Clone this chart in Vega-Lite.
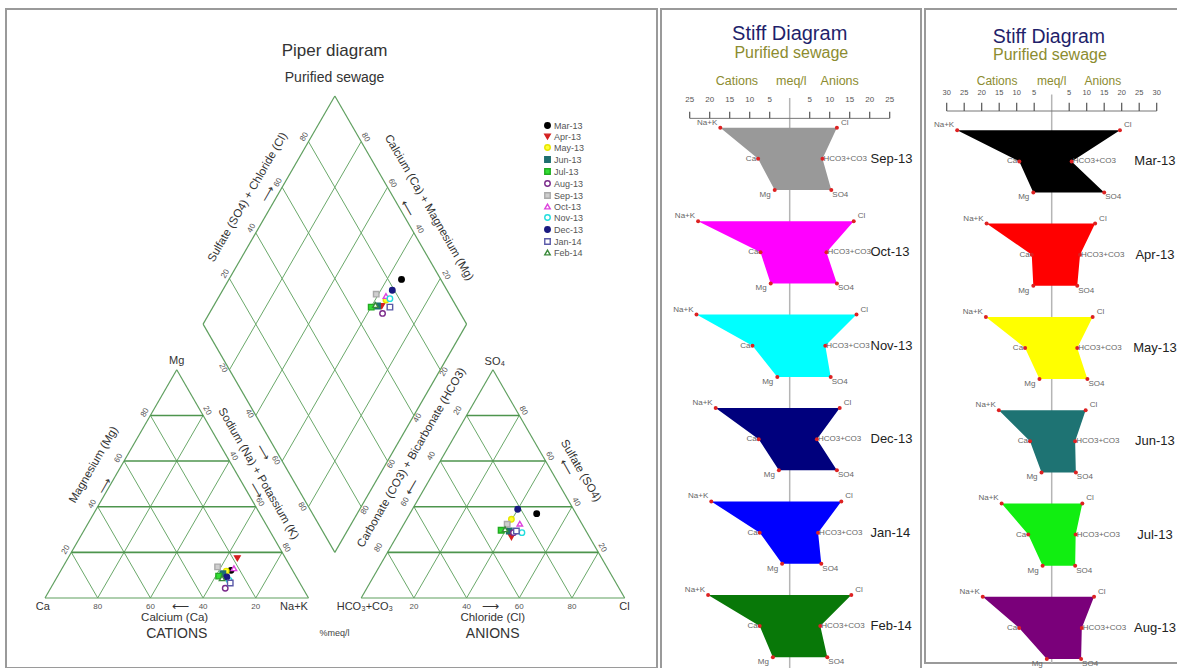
{
"$schema": "https://vega.github.io/schema/vega-lite/v6.json",
"background": "white",
"padding": {"left": 5, "top": 8, "right": 0, "bottom": 0},
"spacing": 2,
"config": {"font": "Liberation Sans", "view": {"stroke": "#9a9a9a", "strokeWidth": 2}},
"datasets": {
"grid": [
{"u":0,"v":0,"u2":100,"v2":0,"kind":"outline"},{"u":0,"v":0,"u2":50,"v2":86.603,"kind":"outline"},{"u":100,"v":0,"u2":50,"v2":86.603,"kind":"outline"},
{"u":120,"v":0,"u2":220,"v2":0,"kind":"outline"},{"u":120,"v":0,"u2":170,"v2":86.603,"kind":"outline"},{"u":220,"v":0,"u2":170,"v2":86.603,"kind":"outline"},
{"u":110,"v":17.321,"u2":60,"v2":103.923,"kind":"outline"},{"u":110,"v":17.321,"u2":160,"v2":103.923,"kind":"outline"},{"u":60,"v":103.923,"u2":110,"v2":190.526,"kind":"outline"},{"u":160,"v":103.923,"u2":110,"v2":190.526,"kind":"outline"},
{"u":10,"v":17.321,"u2":90,"v2":17.321,"kind":"level"},{"u":20,"v":34.641,"u2":80,"v2":34.641,"kind":"level"},{"u":30,"v":51.962,"u2":70,"v2":51.962,"kind":"level"},{"u":40,"v":69.282,"u2":60,"v2":69.282,"kind":"level"},
{"u":130,"v":17.321,"u2":210,"v2":17.321,"kind":"level"},{"u":140,"v":34.641,"u2":200,"v2":34.641,"kind":"level"},{"u":150,"v":51.962,"u2":190,"v2":51.962,"kind":"level"},{"u":160,"v":69.282,"u2":180,"v2":69.282,"kind":"level"},
{"u":20,"v":0,"u2":60,"v2":69.282,"kind":"grid"},{"u":40,"v":0,"u2":70,"v2":51.962,"kind":"grid"},{"u":60,"v":0,"u2":80,"v2":34.641,"kind":"grid"},{"u":80,"v":0,"u2":90,"v2":17.321,"kind":"grid"},
{"u":20,"v":0,"u2":10,"v2":17.321,"kind":"grid"},{"u":40,"v":0,"u2":20,"v2":34.641,"kind":"grid"},{"u":60,"v":0,"u2":30,"v2":51.962,"kind":"grid"},{"u":80,"v":0,"u2":40,"v2":69.282,"kind":"grid"},
{"u":140,"v":0,"u2":180,"v2":69.282,"kind":"grid"},{"u":160,"v":0,"u2":190,"v2":51.962,"kind":"grid"},{"u":180,"v":0,"u2":200,"v2":34.641,"kind":"grid"},{"u":200,"v":0,"u2":210,"v2":17.321,"kind":"grid"},
{"u":140,"v":0,"u2":130,"v2":17.321,"kind":"grid"},{"u":160,"v":0,"u2":140,"v2":34.641,"kind":"grid"},{"u":180,"v":0,"u2":150,"v2":51.962,"kind":"grid"},{"u":200,"v":0,"u2":160,"v2":69.282,"kind":"grid"},
{"u":120,"v":34.641,"u2":70,"v2":121.244,"kind":"grid"},{"u":130,"v":51.962,"u2":80,"v2":138.564,"kind":"grid"},{"u":140,"v":69.282,"u2":90,"v2":155.885,"kind":"grid"},{"u":150,"v":86.603,"u2":100,"v2":173.205,"kind":"grid"},
{"u":100,"v":34.641,"u2":150,"v2":121.244,"kind":"grid"},{"u":90,"v":51.962,"u2":140,"v2":138.564,"kind":"grid"},{"u":80,"v":69.282,"u2":130,"v2":155.885,"kind":"grid"},{"u":70,"v":86.603,"u2":120,"v2":173.205,"kind":"grid"}
],
"ptext": [
{"t":"Piper  diagram","u":109.9,"v":207.6,"role":"title","dir":"flat"},
{"t":"Purified sewage","u":109.9,"v":197.5,"role":"sub","dir":"flat"},
{"t":"CATIONS","u":50,"v":-13.7,"role":"group","dir":"flat"},
{"t":"ANIONS","u":169.9,"v":-13.7,"role":"group","dir":"flat"},
{"t":"%meq/l","u":109.9,"v":-13.2,"role":"unit","dir":"flat"},
{"t":"Ca","u":-0.8,"v":-3.4,"role":"vertex","dir":"flat"},
{"t":"Na+K","u":94.5,"v":-3.4,"role":"vertex","dir":"flat"},
{"t":"HCO₃+CO₃","u":121.4,"v":-3.4,"role":"vertex","dir":"flat"},
{"t":"Cl","u":219.9,"v":-3.4,"role":"vertex","dir":"flat"},
{"t":"Mg","u":50,"v":89.9,"role":"vertex","dir":"flat"},
{"t":"SO₄","u":170.7,"v":89.7,"role":"vertex","dir":"flat"},
{"t":"80","u":20,"v":-3.4,"role":"tick","dir":"flat"},{"t":"60","u":40,"v":-3.4,"role":"tick","dir":"flat"},{"t":"40","u":60,"v":-3.4,"role":"tick","dir":"flat"},{"t":"20","u":80,"v":-3.4,"role":"tick","dir":"flat"},
{"t":"20","u":140,"v":-3.4,"role":"tick","dir":"flat"},{"t":"40","u":160,"v":-3.4,"role":"tick","dir":"flat"},{"t":"60","u":180,"v":-3.4,"role":"tick","dir":"flat"},{"t":"80","u":200,"v":-3.4,"role":"tick","dir":"flat"},
{"t":"20","u":8,"v":18.3,"role":"tick","dir":"up"},{"t":"40","u":18,"v":35.6,"role":"tick","dir":"up"},{"t":"60","u":28,"v":53,"role":"tick","dir":"up"},{"t":"80","u":38,"v":70.3,"role":"tick","dir":"up"},
{"t":"80","u":126.7,"v":19.1,"role":"tick","dir":"up"},{"t":"60","u":136.7,"v":36.4,"role":"tick","dir":"up"},{"t":"40","u":146.7,"v":53.8,"role":"tick","dir":"up"},{"t":"20","u":156.7,"v":71.1,"role":"tick","dir":"up"},
{"t":"20","u":68.5,"v":123,"role":"tick","dir":"up"},{"t":"40","u":78.5,"v":140.3,"role":"tick","dir":"up"},{"t":"60","u":88.5,"v":157.6,"role":"tick","dir":"up"},{"t":"80","u":98.5,"v":175,"role":"tick","dir":"up"},
{"t":"80","u":121.5,"v":33.3,"role":"tick","dir":"up"},{"t":"60","u":131.5,"v":50.8,"role":"tick","dir":"up"},{"t":"40","u":141.5,"v":68.3,"role":"tick","dir":"up"},{"t":"20","u":151.5,"v":85.8,"role":"tick","dir":"up"},
{"t":"20","u":61.5,"v":71.1,"role":"tick","dir":"down"},{"t":"40","u":71.5,"v":53.8,"role":"tick","dir":"down"},{"t":"60","u":81.5,"v":36.4,"role":"tick","dir":"down"},{"t":"80","u":91.5,"v":19.1,"role":"tick","dir":"down"},
{"t":"80","u":181.5,"v":71.1,"role":"tick","dir":"down"},{"t":"60","u":191.5,"v":53.8,"role":"tick","dir":"down"},{"t":"40","u":201.5,"v":36.4,"role":"tick","dir":"down"},{"t":"20","u":211.5,"v":19.1,"role":"tick","dir":"down"},
{"t":"80","u":121.6,"v":174.8,"role":"tick","dir":"down"},{"t":"60","u":131.8,"v":157.4,"role":"tick","dir":"down"},{"t":"40","u":142,"v":140,"role":"tick","dir":"down"},{"t":"20","u":152.2,"v":122.5,"role":"tick","dir":"down"},
{"t":"20","u":67.5,"v":87.2,"role":"tick","dir":"down"},{"t":"40","u":77.5,"v":69.9,"role":"tick","dir":"down"},{"t":"60","u":87.5,"v":52.2,"role":"tick","dir":"down"},{"t":"80","u":97.5,"v":34.6,"role":"tick","dir":"down"},
{"t":"Calcium (Ca)","u":49.2,"v":-7.6,"role":"axis","dir":"flat"},
{"t":"Chloride (Cl)","u":169.9,"v":-7.6,"role":"axis","dir":"flat"},
{"t":"⟵","u":51.6,"v":-3.4,"role":"axis","dir":"flat"},
{"t":"⟶","u":169,"v":-3.4,"role":"axis","dir":"flat"},
{"t":"Magnesium (Mg)","u":18.6,"v":50.5,"role":"axis","dir":"up"},
{"t":"Sulfate (SO4) + Chloride (Cl)","u":77.0,"v":152.0,"role":"axis","dir":"up"},
{"t":"Carbonate (CO3) + Bicarbonate (HCO3)","u":139.2,"v":53.2,"role":"axis","dir":"up"},
{"t":"⟶","u":23,"v":42.5,"role":"axis","dir":"up"},
{"t":"⟶","u":84.9,"v":153.2,"role":"axis","dir":"up"},
{"t":"⟵","u":139.7,"v":41.9,"role":"axis","dir":"up"},
{"t":"Sodium (Na) + Potassium (K)","u":80.9,"v":47.1,"role":"axis","dir":"down"},
{"t":"Calcium (Ca) + Magnesium (Mg)","u":145.6,"v":148.1,"role":"axis","dir":"down"},
{"t":"Sulfate (SO4)","u":203.2,"v":48.2,"role":"axis","dir":"down"},
{"t":"⟶","u":80.1,"v":40.6,"role":"axis","dir":"down"},
{"t":"⟶","u":82.5,"v":55.1,"role":"axis","dir":"down"},
{"t":"⟵","u":137.3,"v":147.5,"role":"axis","dir":"down"},
{"t":"⟵","u":197.7,"v":49.4,"role":"axis","dir":"down"}
],
"pts": [
{"month":"Mar-13","u":70.6,"v":10.5},{"month":"Apr-13","u":73.0,"v":15.1},{"month":"May-13","u":68.8,"v":10.2},{"month":"Jun-13","u":67.5,"v":9.2},{"month":"Jul-13","u":65.9,"v":8.3},{"month":"Aug-13","u":68.4,"v":3.7},
{"month":"Sep-13","u":65.5,"v":11.8},{"month":"Oct-13","u":71.7,"v":11.3},{"month":"Nov-13","u":69.9,"v":6.7},{"month":"Dec-13","u":69.0,"v":8.0},{"month":"Jan-14","u":70.3,"v":5.7},{"month":"Feb-14","u":67.2,"v":7.5},
{"month":"Mar-13","u":186.6,"v":32.0},{"month":"Apr-13","u":177.0,"v":23.1},{"month":"May-13","u":177.0,"v":29.9},{"month":"Jun-13","u":176.2,"v":25.4},{"month":"Jul-13","u":173.1,"v":25.7},{"month":"Aug-13","u":177.8,"v":24.8},
{"month":"Sep-13","u":175.4,"v":28.0},{"month":"Oct-13","u":180.2,"v":28.2},{"month":"Nov-13","u":181.0,"v":24.8},{"month":"Dec-13","u":179.4,"v":33.7},{"month":"Jan-14","u":178.9,"v":25.4},{"month":"Feb-14","u":174.6,"v":26.1},
{"month":"Mar-13","u":135.3,"v":120.9},{"month":"Apr-13","u":127.8,"v":110.8},{"month":"May-13","u":129.4,"v":113.1},{"month":"Jun-13","u":126.2,"v":110.8},{"month":"Jul-13","u":123.8,"v":110.4},{"month":"Aug-13","u":128.1,"v":108.0},
{"month":"Sep-13","u":125.7,"v":115.3},{"month":"Oct-13","u":129.4,"v":114.6},{"month":"Nov-13","u":130.9,"v":113.6},{"month":"Dec-13","u":131.8,"v":116.8},{"month":"Jan-14","u":130.9,"v":110.4},{"month":"Feb-14","u":125.4,"v":111.2}
],
"stiffB": [
{"sample":"Sep-13","r":0,"cat":-17.35,"an":11.8,"cl":"Na+K","al":"Cl","pos":"t"},{"sample":"Sep-13","r":1,"cat":-7.9,"an":8.2,"cl":"Ca","al":"HCO3+CO3","pos":"m"},{"sample":"Sep-13","r":2,"cat":-3.75,"an":10.4,"cl":"Mg","al":"SO4","pos":"b"},
{"sample":"Oct-13","r":3,"cat":-22.9,"an":16.0,"cl":"Na+K","al":"Cl","pos":"t"},{"sample":"Oct-13","r":4,"cat":-7.3,"an":9.2,"cl":"Ca","al":"HCO3+CO3","pos":"m"},{"sample":"Oct-13","r":5,"cat":-4.75,"an":11.8,"cl":"Mg","al":"SO4","pos":"b"},
{"sample":"Nov-13","r":6,"cat":-23.3,"an":16.7,"cl":"Na+K","al":"Cl","pos":"t"},{"sample":"Nov-13","r":7,"cat":-9.3,"an":8.9,"cl":"Ca","al":"HCO3+CO3","pos":"m"},{"sample":"Nov-13","r":8,"cat":-3.1,"an":10.25,"cl":"Mg","al":"SO4","pos":"b"},
{"sample":"Dec-13","r":9,"cat":-18.5,"an":12.5,"cl":"Na+K","al":"Cl","pos":"t"},{"sample":"Dec-13","r":10,"cat":-7.75,"an":6.8,"cl":"Ca","al":"HCO3+CO3","pos":"m"},{"sample":"Dec-13","r":11,"cat":-2.7,"an":11.8,"cl":"Mg","al":"SO4","pos":"b"},
{"sample":"Jan-14","r":12,"cat":-19.6,"an":12.9,"cl":"Na+K","al":"Cl","pos":"t"},{"sample":"Jan-14","r":13,"cat":-7.5,"an":7.1,"cl":"Ca","al":"HCO3+CO3","pos":"m"},{"sample":"Jan-14","r":14,"cat":-1.9,"an":7.9,"cl":"Mg","al":"SO4","pos":"b"},
{"sample":"Feb-14","r":15,"cat":-20.4,"an":15.4,"cl":"Na+K","al":"Cl","pos":"t"},{"sample":"Feb-14","r":16,"cat":-7.5,"an":7.65,"cl":"Ca","al":"HCO3+CO3","pos":"m"},{"sample":"Feb-14","r":17,"cat":-4.2,"an":9.4,"cl":"Mg","al":"SO4","pos":"b"}
],
"stiffC": [
{"sample":"Mar-13","r":0,"cat":-27.0,"an":19.5,"cl":"Na+K","al":"Cl","pos":"t"},{"sample":"Mar-13","r":1,"cat":-9.25,"an":5.7,"cl":"Ca","al":"HCO3+CO3","pos":"m"},{"sample":"Mar-13","r":2,"cat":-5.25,"an":15.0,"cl":"Mg","al":"SO4","pos":"b"},
{"sample":"Apr-13","r":3,"cat":-18.6,"an":12.4,"cl":"Na+K","al":"Cl","pos":"t"},{"sample":"Apr-13","r":4,"cat":-5.7,"an":8.1,"cl":"Ca","al":"HCO3+CO3","pos":"m"},{"sample":"Apr-13","r":5,"cat":-5.25,"an":7.3,"cl":"Mg","al":"SO4","pos":"b"},
{"sample":"May-13","r":6,"cat":-18.8,"an":11.7,"cl":"Na+K","al":"Cl","pos":"t"},{"sample":"May-13","r":7,"cat":-7.6,"an":7.3,"cl":"Ca","al":"HCO3+CO3","pos":"m"},{"sample":"May-13","r":8,"cat":-3.5,"an":10.2,"cl":"Mg","al":"SO4","pos":"b"},
{"sample":"Jun-13","r":9,"cat":-15.1,"an":9.7,"cl":"Na+K","al":"Cl","pos":"t"},{"sample":"Jun-13","r":10,"cat":-6.2,"an":6.7,"cl":"Ca","al":"HCO3+CO3","pos":"m"},{"sample":"Jun-13","r":11,"cat":-2.9,"an":6.9,"cl":"Mg","al":"SO4","pos":"b"},
{"sample":"Jul-13","r":12,"cat":-14.3,"an":8.75,"cl":"Na+K","al":"Cl","pos":"t"},{"sample":"Jul-13","r":13,"cat":-6.7,"an":6.85,"cl":"Ca","al":"HCO3+CO3","pos":"m"},{"sample":"Jul-13","r":14,"cat":-2.6,"an":6.7,"cl":"Mg","al":"SO4","pos":"b"},
{"sample":"Aug-13","r":15,"cat":-19.7,"an":12.1,"cl":"Na+K","al":"Cl","pos":"t"},{"sample":"Aug-13","r":16,"cat":-9.3,"an":8.6,"cl":"Ca","al":"HCO3+CO3","pos":"m"},{"sample":"Aug-13","r":17,"cat":-1.4,"an":8.4,"cl":"Mg","al":"SO4","pos":"b"}
],
"ticksB": [{"v":-25,"lab":"25"},{"v":-20,"lab":"20"},{"v":-15,"lab":"15"},{"v":-10,"lab":"10"},{"v":-5,"lab":"5"},{"v":5,"lab":"5"},{"v":10,"lab":"10"},{"v":15,"lab":"15"},{"v":20,"lab":"20"},{"v":25,"lab":"25"}],
"ticksC": [{"v":-30,"lab":"30"},{"v":-25,"lab":"25"},{"v":-20,"lab":"20"},{"v":-15,"lab":"15"},{"v":-10,"lab":"10"},{"v":-5,"lab":"5"},{"v":5,"lab":"5"},{"v":10,"lab":"10"},{"v":15,"lab":"15"},{"v":20,"lab":"20"},{"v":25,"lab":"25"},{"v":30,"lab":"30"}],
"titlesB": [{"t":"Stiff Diagram","x":0,"y":-3.01,"role":"title"},{"t":"Purified sewage","x":0.4,"y":-2.40,"role":"sub"},{"t":"Cations","x":-13.2,"y":-1.50,"role":"head"},{"t":"meq/l","x":0.4,"y":-1.50,"role":"head"},{"t":"Anions","x":12.5,"y":-1.50,"role":"head"}],
"titlesC": [{"t":"Stiff Diagram","x":-0.8,"y":-3.0,"role":"title"},{"t":"Purified sewage","x":-0.5,"y":-2.42,"role":"sub"},{"t":"Cations","x":-15.6,"y":-1.60,"role":"head"},{"t":"meq/l","x":0,"y":-1.60,"role":"head"},{"t":"Anions","x":14.6,"y":-1.60,"role":"head"}]
},
"hconcat": [
{
"width": 651, "height": 659,
"encoding": {
"x": {"field":"u","type":"quantitative","scale":{"domain":[-14.8,232.26],"nice":false,"zero":false},"axis":null},
"y": {"field":"v","type":"quantitative","scale":{"domain":[-26.57,223.53],"nice":false,"zero":false},"axis":null}
},
"layer": [
{"data":{"name":"grid"},"transform":[{"filter":"datum.kind == 'grid'"}],"mark":{"type":"rule","color":"#6aa86a","strokeWidth":1},"encoding":{"x2":{"field":"u2"},"y2":{"field":"v2"}}},
{"data":{"name":"grid"},"transform":[{"filter":"datum.kind == 'outline'"}],"mark":{"type":"rule","color":"#5f9f5f","strokeWidth":1.2},"encoding":{"x2":{"field":"u2"},"y2":{"field":"v2"}}},
{"data":{"name":"grid"},"transform":[{"filter":"datum.kind == 'level'"}],"mark":{"type":"rule","color":"#4e954e","strokeWidth":1.6},"encoding":{"x2":{"field":"u2"},"y2":{"field":"v2"}}},
{"data":{"name":"ptext"},"transform":[{"filter":"datum.role == 'title'"}],"mark":{"type":"text","fontSize":17,"color":"#333333"},"encoding":{"text":{"field":"t"}}},
{"data":{"name":"ptext"},"transform":[{"filter":"datum.role == 'sub'"}],"mark":{"type":"text","fontSize":14,"color":"#333333"},"encoding":{"text":{"field":"t"}}},
{"data":{"name":"ptext"},"transform":[{"filter":"datum.role == 'group'"}],"mark":{"type":"text","fontSize":14,"color":"#333333"},"encoding":{"text":{"field":"t"}}},
{"data":{"name":"ptext"},"transform":[{"filter":"datum.role == 'unit'"}],"mark":{"type":"text","fontSize":9,"color":"#444444"},"encoding":{"text":{"field":"t"}}},
{"data":{"name":"ptext"},"transform":[{"filter":"datum.role == 'vertex'"}],"mark":{"type":"text","fontSize":11,"color":"#333333"},"encoding":{"text":{"field":"t"}}},
{"data":{"name":"ptext"},"transform":[{"filter":"datum.role == 'tick' && datum.dir == 'flat'"}],"mark":{"type":"text","fontSize":8,"color":"#555555"},"encoding":{"text":{"field":"t"}}},
{"data":{"name":"ptext"},"transform":[{"filter":"datum.role == 'tick' && datum.dir == 'up'"}],"mark":{"type":"text","fontSize":8,"color":"#555555","angle":300},"encoding":{"text":{"field":"t"}}},
{"data":{"name":"ptext"},"transform":[{"filter":"datum.role == 'tick' && datum.dir == 'down'"}],"mark":{"type":"text","fontSize":8,"color":"#555555","angle":60},"encoding":{"text":{"field":"t"}}},
{"data":{"name":"ptext"},"transform":[{"filter":"datum.role == 'axis' && datum.dir == 'flat'"}],"mark":{"type":"text","fontSize":11.5,"color":"#333333"},"encoding":{"text":{"field":"t"}}},
{"data":{"name":"ptext"},"transform":[{"filter":"datum.role == 'axis' && datum.dir == 'up'"}],"mark":{"type":"text","fontSize":11.5,"color":"#333333","angle":300},"encoding":{"text":{"field":"t"}}},
{"data":{"name":"ptext"},"transform":[{"filter":"datum.role == 'axis' && datum.dir == 'down'"}],"mark":{"type":"text","fontSize":11.5,"color":"#333333","angle":60},"encoding":{"text":{"field":"t"}}},
{"data":{"name":"pts"},"mark":{"type":"point","size":30,"strokeWidth":1.4,"opacity":1},
"encoding":{
"shape":{"field":"month","type":"nominal","scale":{"domain":["Mar-13","Apr-13","May-13","Jun-13","Jul-13","Aug-13","Sep-13","Oct-13","Nov-13","Dec-13","Jan-14","Feb-14"],"range":["circle","triangle-down","circle","square","square","circle","square","triangle-up","circle","circle","square","triangle-up"]},"legend":{"title":null,"orient":"none","legendX":537,"legendY":112,"labelFontSize":9,"labelColor":"#555555","symbolSize":30,"rowPadding":-1,"padding":0,"labelOffset":2,"symbolStrokeWidth":1.4}},
"fill":{"field":"month","type":"nominal","scale":{"domain":["Mar-13","Apr-13","May-13","Jun-13","Jul-13","Aug-13","Sep-13","Oct-13","Nov-13","Dec-13","Jan-14","Feb-14"],"range":["#000000","#d42020","#ffff33","#1e6f6f","#33dd33","#ffffff","#cfcfcf","#ffffff","#ffffff","#1a1a80","#ffffff","#ffffff"]},"legend":{"title":null,"orient":"none","legendX":537,"legendY":112,"labelFontSize":9,"labelColor":"#555555","symbolSize":30,"rowPadding":-1,"padding":0,"labelOffset":2,"symbolStrokeWidth":1.4}},
"stroke":{"field":"month","type":"nominal","scale":{"domain":["Mar-13","Apr-13","May-13","Jun-13","Jul-13","Aug-13","Sep-13","Oct-13","Nov-13","Dec-13","Jan-14","Feb-14"],"range":["#000000","#d42020","#e6e600","#1e6f6f","#22aa22","#7a2a8a","#aaaaaa","#dd44dd","#22dddd","#1a1a80","#5a5aa8","#3a8a3a"]},"legend":{"title":null,"orient":"none","legendX":537,"legendY":112,"labelFontSize":9,"labelColor":"#555555","symbolSize":30,"rowPadding":-1,"padding":0,"labelOffset":2,"symbolStrokeWidth":1.4}}
}}
]
},
{
"width": 260, "height": 660,
"layer": [
{"data":{"values":[{}]},"mark":{"type":"rule","color":"#b5b5b5","strokeWidth":1.5},"encoding":{"x":{"datum":0,"type":"quantitative","scale":{"domain":[-32.175,32.825],"nice":false,"zero":false},"axis":null},"y":{"datum":-0.95,"type":"quantitative","scale":{"domain":[-3.811,17.378],"nice":false,"zero":false,"reverse":true},"axis":null},"y2":{"datum":17.378}}},
{"data":{"values":[{}]},"mark":{"type":"rule","color":"#777777","strokeWidth":1},"encoding":{"x":{"datum":-25,"type":"quantitative","scale":{"domain":[-32.175,32.825],"nice":false,"zero":false},"axis":null},"x2":{"datum":25},"y":{"datum":-0.30,"type":"quantitative","scale":{"domain":[-3.811,17.378],"nice":false,"zero":false,"reverse":true},"axis":null}}},
{"data":{"name":"ticksB"},"mark":{"type":"rule","color":"#555555","strokeWidth":1.2},"encoding":{"x":{"field":"v","type":"quantitative","scale":{"domain":[-32.175,32.825],"nice":false,"zero":false},"axis":null},"y":{"datum":-0.30,"type":"quantitative","scale":{"domain":[-3.811,17.378],"nice":false,"zero":false,"reverse":true},"axis":null},"y2":{"datum":-0.51}}},
{"data":{"name":"ticksB"},"mark":{"type":"text","fontSize":8,"color":"#555555"},"encoding":{"x":{"field":"v","type":"quantitative","scale":{"domain":[-32.175,32.825],"nice":false,"zero":false},"axis":null},"y":{"datum":-0.88,"type":"quantitative","scale":{"domain":[-3.811,17.378],"nice":false,"zero":false,"reverse":true},"axis":null},"text":{"field":"lab"}}},
{"data":{"name":"titlesB"},"transform":[{"filter":"datum.role == 'title'"}],"mark":{"type":"text","fontSize":20,"color":"#1f1f6b"},"encoding":{"x":{"field":"x","type":"quantitative","scale":{"domain":[-32.175,32.825],"nice":false,"zero":false},"axis":null},"y":{"field":"y","type":"quantitative","scale":{"domain":[-3.811,17.378],"nice":false,"zero":false,"reverse":true},"axis":null},"text":{"field":"t"}}},
{"data":{"name":"titlesB"},"transform":[{"filter":"datum.role == 'sub'"}],"mark":{"type":"text","fontSize":16,"color":"#8c8c30"},"encoding":{"x":{"field":"x","type":"quantitative","scale":{"domain":[-32.175,32.825],"nice":false,"zero":false},"axis":null},"y":{"field":"y","type":"quantitative","scale":{"domain":[-3.811,17.378],"nice":false,"zero":false,"reverse":true},"axis":null},"text":{"field":"t"}}},
{"data":{"name":"titlesB"},"transform":[{"filter":"datum.role == 'head'"}],"mark":{"type":"text","fontSize":12.5,"color":"#8c8c30"},"encoding":{"x":{"field":"x","type":"quantitative","scale":{"domain":[-32.175,32.825],"nice":false,"zero":false},"axis":null},"y":{"field":"y","type":"quantitative","scale":{"domain":[-3.811,17.378],"nice":false,"zero":false,"reverse":true},"axis":null},"text":{"field":"t"}}},
{"data":{"name":"stiffB"},"mark":{"type":"area","orient":"horizontal","opacity":1},"encoding":{"y":{"field":"r","type":"quantitative","scale":{"domain":[-3.811,17.378],"nice":false,"zero":false,"reverse":true},"axis":null},"x":{"field":"cat","type":"quantitative","scale":{"domain":[-32.175,32.825],"nice":false,"zero":false},"axis":null,"stack":null},"x2":{"field":"an"},"color":{"field":"sample","type":"nominal","scale":{"domain":["Mar-13","Apr-13","May-13","Jun-13","Jul-13","Aug-13","Sep-13","Oct-13","Nov-13","Dec-13","Jan-14","Feb-14"],"range":["#000000","#ff0000","#ffff00","#1e7373","#11ee11","#7a007a","#999999","#ff00ff","#00ffff","#00007d","#0000ff","#087808"]},"legend":null}}},
{"data":{"name":"stiffB"},"mark":{"type":"point","filled":true,"size":16,"color":"#dd2222","opacity":1},"encoding":{"x":{"field":"cat","type":"quantitative","scale":{"domain":[-32.175,32.825],"nice":false,"zero":false},"axis":null},"y":{"field":"r","type":"quantitative","scale":{"domain":[-3.811,17.378],"nice":false,"zero":false,"reverse":true},"axis":null}}},
{"data":{"name":"stiffB"},"mark":{"type":"point","filled":true,"size":16,"color":"#dd2222","opacity":1},"encoding":{"x":{"field":"an","type":"quantitative","scale":{"domain":[-32.175,32.825],"nice":false,"zero":false},"axis":null},"y":{"field":"r","type":"quantitative","scale":{"domain":[-3.811,17.378],"nice":false,"zero":false,"reverse":true},"axis":null}}},
{"data":{"name":"stiffB"},"transform":[{"filter":"datum.pos == 't'"}],"mark":{"type":"text","fontSize":8,"color":"#666666","align":"right","dx":-3,"dy":-5},"encoding":{"x":{"field":"cat","type":"quantitative","scale":{"domain":[-32.175,32.825],"nice":false,"zero":false},"axis":null},"y":{"field":"r","type":"quantitative","scale":{"domain":[-3.811,17.378],"nice":false,"zero":false,"reverse":true},"axis":null},"text":{"field":"cl"}}},
{"data":{"name":"stiffB"},"transform":[{"filter":"datum.pos == 'm'"}],"mark":{"type":"text","fontSize":8,"color":"#666666","align":"right","dx":-2,"dy":0},"encoding":{"x":{"field":"cat","type":"quantitative","scale":{"domain":[-32.175,32.825],"nice":false,"zero":false},"axis":null},"y":{"field":"r","type":"quantitative","scale":{"domain":[-3.811,17.378],"nice":false,"zero":false,"reverse":true},"axis":null},"text":{"field":"cl"}}},
{"data":{"name":"stiffB"},"transform":[{"filter":"datum.pos == 'b'"}],"mark":{"type":"text","fontSize":8,"color":"#666666","align":"right","dx":-4,"dy":5},"encoding":{"x":{"field":"cat","type":"quantitative","scale":{"domain":[-32.175,32.825],"nice":false,"zero":false},"axis":null},"y":{"field":"r","type":"quantitative","scale":{"domain":[-3.811,17.378],"nice":false,"zero":false,"reverse":true},"axis":null},"text":{"field":"cl"}}},
{"data":{"name":"stiffB"},"transform":[{"filter":"datum.pos == 't'"}],"mark":{"type":"text","fontSize":8,"color":"#666666","align":"left","dx":4,"dy":-5},"encoding":{"x":{"field":"an","type":"quantitative","scale":{"domain":[-32.175,32.825],"nice":false,"zero":false},"axis":null},"y":{"field":"r","type":"quantitative","scale":{"domain":[-3.811,17.378],"nice":false,"zero":false,"reverse":true},"axis":null},"text":{"field":"al"}}},
{"data":{"name":"stiffB"},"transform":[{"filter":"datum.pos == 'm'"}],"mark":{"type":"text","fontSize":8,"color":"#666666","align":"left","dx":1,"dy":0},"encoding":{"x":{"field":"an","type":"quantitative","scale":{"domain":[-32.175,32.825],"nice":false,"zero":false},"axis":null},"y":{"field":"r","type":"quantitative","scale":{"domain":[-3.811,17.378],"nice":false,"zero":false,"reverse":true},"axis":null},"text":{"field":"al"}}},
{"data":{"name":"stiffB"},"transform":[{"filter":"datum.pos == 'b'"}],"mark":{"type":"text","fontSize":8,"color":"#666666","align":"left","dx":1,"dy":5},"encoding":{"x":{"field":"an","type":"quantitative","scale":{"domain":[-32.175,32.825],"nice":false,"zero":false},"axis":null},"y":{"field":"r","type":"quantitative","scale":{"domain":[-3.811,17.378],"nice":false,"zero":false,"reverse":true},"axis":null},"text":{"field":"al"}}},
{"data":{"name":"stiffB"},"transform":[{"filter":"datum.pos == 'm'"}],"mark":{"type":"text","fontSize":13,"color":"#222222","align":"left"},"encoding":{"x":{"datum":20.2,"type":"quantitative","scale":{"domain":[-32.175,32.825],"nice":false,"zero":false},"axis":null},"y":{"field":"r","type":"quantitative","scale":{"domain":[-3.811,17.378],"nice":false,"zero":false,"reverse":true},"axis":null},"text":{"field":"sample"}}}
]
},
{
"width": 257, "height": 654,
"layer": [
{"data":{"values":[{}]},"mark":{"type":"rule","color":"#b5b5b5","strokeWidth":1.5},"encoding":{"x":{"datum":0,"type":"quantitative","scale":{"domain":[-36.2,37.229],"nice":false,"zero":false},"axis":null},"y":{"datum":-1.15,"type":"quantitative","scale":{"domain":[-3.9,17.129],"nice":false,"zero":false,"reverse":true},"axis":null},"y2":{"datum":17.129}}},
{"data":{"values":[{}]},"mark":{"type":"rule","color":"#777777","strokeWidth":1},"encoding":{"x":{"datum":-30,"type":"quantitative","scale":{"domain":[-36.2,37.229],"nice":false,"zero":false},"axis":null},"x2":{"datum":30},"y":{"datum":-0.62,"type":"quantitative","scale":{"domain":[-3.9,17.129],"nice":false,"zero":false,"reverse":true},"axis":null}}},
{"data":{"name":"ticksC"},"mark":{"type":"rule","color":"#555555","strokeWidth":1.2},"encoding":{"x":{"field":"v","type":"quantitative","scale":{"domain":[-36.2,37.229],"nice":false,"zero":false},"axis":null},"y":{"datum":-0.62,"type":"quantitative","scale":{"domain":[-3.9,17.129],"nice":false,"zero":false,"reverse":true},"axis":null},"y2":{"datum":-0.887}}},
{"data":{"name":"ticksC"},"mark":{"type":"text","fontSize":7.5,"color":"#555555"},"encoding":{"x":{"field":"v","type":"quantitative","scale":{"domain":[-36.2,37.229],"nice":false,"zero":false},"axis":null},"y":{"datum":-1.21,"type":"quantitative","scale":{"domain":[-3.9,17.129],"nice":false,"zero":false,"reverse":true},"axis":null},"text":{"field":"lab"}}},
{"data":{"name":"titlesC"},"transform":[{"filter":"datum.role == 'title'"}],"mark":{"type":"text","fontSize":19.5,"color":"#1f1f6b"},"encoding":{"x":{"field":"x","type":"quantitative","scale":{"domain":[-36.2,37.229],"nice":false,"zero":false},"axis":null},"y":{"field":"y","type":"quantitative","scale":{"domain":[-3.9,17.129],"nice":false,"zero":false,"reverse":true},"axis":null},"text":{"field":"t"}}},
{"data":{"name":"titlesC"},"transform":[{"filter":"datum.role == 'sub'"}],"mark":{"type":"text","fontSize":16,"color":"#8c8c30"},"encoding":{"x":{"field":"x","type":"quantitative","scale":{"domain":[-36.2,37.229],"nice":false,"zero":false},"axis":null},"y":{"field":"y","type":"quantitative","scale":{"domain":[-3.9,17.129],"nice":false,"zero":false,"reverse":true},"axis":null},"text":{"field":"t"}}},
{"data":{"name":"titlesC"},"transform":[{"filter":"datum.role == 'head'"}],"mark":{"type":"text","fontSize":12,"color":"#8c8c30"},"encoding":{"x":{"field":"x","type":"quantitative","scale":{"domain":[-36.2,37.229],"nice":false,"zero":false},"axis":null},"y":{"field":"y","type":"quantitative","scale":{"domain":[-3.9,17.129],"nice":false,"zero":false,"reverse":true},"axis":null},"text":{"field":"t"}}},
{"data":{"name":"stiffC"},"mark":{"type":"area","orient":"horizontal","opacity":1},"encoding":{"y":{"field":"r","type":"quantitative","scale":{"domain":[-3.9,17.129],"nice":false,"zero":false,"reverse":true},"axis":null},"x":{"field":"cat","type":"quantitative","scale":{"domain":[-36.2,37.229],"nice":false,"zero":false},"axis":null,"stack":null},"x2":{"field":"an"},"color":{"field":"sample","type":"nominal","scale":{"domain":["Mar-13","Apr-13","May-13","Jun-13","Jul-13","Aug-13","Sep-13","Oct-13","Nov-13","Dec-13","Jan-14","Feb-14"],"range":["#000000","#ff0000","#ffff00","#1e7373","#11ee11","#7a007a","#999999","#ff00ff","#00ffff","#00007d","#0000ff","#087808"]},"legend":null}}},
{"data":{"name":"stiffC"},"mark":{"type":"point","filled":true,"size":16,"color":"#dd2222","opacity":1},"encoding":{"x":{"field":"cat","type":"quantitative","scale":{"domain":[-36.2,37.229],"nice":false,"zero":false},"axis":null},"y":{"field":"r","type":"quantitative","scale":{"domain":[-3.9,17.129],"nice":false,"zero":false,"reverse":true},"axis":null}}},
{"data":{"name":"stiffC"},"mark":{"type":"point","filled":true,"size":16,"color":"#dd2222","opacity":1},"encoding":{"x":{"field":"an","type":"quantitative","scale":{"domain":[-36.2,37.229],"nice":false,"zero":false},"axis":null},"y":{"field":"r","type":"quantitative","scale":{"domain":[-3.9,17.129],"nice":false,"zero":false,"reverse":true},"axis":null}}},
{"data":{"name":"stiffC"},"transform":[{"filter":"datum.pos == 't'"}],"mark":{"type":"text","fontSize":8,"color":"#666666","align":"right","dx":-3,"dy":-5},"encoding":{"x":{"field":"cat","type":"quantitative","scale":{"domain":[-36.2,37.229],"nice":false,"zero":false},"axis":null},"y":{"field":"r","type":"quantitative","scale":{"domain":[-3.9,17.129],"nice":false,"zero":false,"reverse":true},"axis":null},"text":{"field":"cl"}}},
{"data":{"name":"stiffC"},"transform":[{"filter":"datum.pos == 'm'"}],"mark":{"type":"text","fontSize":8,"color":"#666666","align":"right","dx":-2,"dy":0},"encoding":{"x":{"field":"cat","type":"quantitative","scale":{"domain":[-36.2,37.229],"nice":false,"zero":false},"axis":null},"y":{"field":"r","type":"quantitative","scale":{"domain":[-3.9,17.129],"nice":false,"zero":false,"reverse":true},"axis":null},"text":{"field":"cl"}}},
{"data":{"name":"stiffC"},"transform":[{"filter":"datum.pos == 'b'"}],"mark":{"type":"text","fontSize":8,"color":"#666666","align":"right","dx":-4,"dy":5},"encoding":{"x":{"field":"cat","type":"quantitative","scale":{"domain":[-36.2,37.229],"nice":false,"zero":false},"axis":null},"y":{"field":"r","type":"quantitative","scale":{"domain":[-3.9,17.129],"nice":false,"zero":false,"reverse":true},"axis":null},"text":{"field":"cl"}}},
{"data":{"name":"stiffC"},"transform":[{"filter":"datum.pos == 't'"}],"mark":{"type":"text","fontSize":8,"color":"#666666","align":"left","dx":4,"dy":-5},"encoding":{"x":{"field":"an","type":"quantitative","scale":{"domain":[-36.2,37.229],"nice":false,"zero":false},"axis":null},"y":{"field":"r","type":"quantitative","scale":{"domain":[-3.9,17.129],"nice":false,"zero":false,"reverse":true},"axis":null},"text":{"field":"al"}}},
{"data":{"name":"stiffC"},"transform":[{"filter":"datum.pos == 'm'"}],"mark":{"type":"text","fontSize":8,"color":"#666666","align":"left","dx":1,"dy":0},"encoding":{"x":{"field":"an","type":"quantitative","scale":{"domain":[-36.2,37.229],"nice":false,"zero":false},"axis":null},"y":{"field":"r","type":"quantitative","scale":{"domain":[-3.9,17.129],"nice":false,"zero":false,"reverse":true},"axis":null},"text":{"field":"al"}}},
{"data":{"name":"stiffC"},"transform":[{"filter":"datum.pos == 'b'"}],"mark":{"type":"text","fontSize":8,"color":"#666666","align":"left","dx":1,"dy":5},"encoding":{"x":{"field":"an","type":"quantitative","scale":{"domain":[-36.2,37.229],"nice":false,"zero":false},"axis":null},"y":{"field":"r","type":"quantitative","scale":{"domain":[-3.9,17.129],"nice":false,"zero":false,"reverse":true},"axis":null},"text":{"field":"al"}}},
{"data":{"name":"stiffC"},"transform":[{"filter":"datum.pos == 'm'"}],"mark":{"type":"text","fontSize":13,"color":"#222222","align":"center"},"encoding":{"x":{"datum":29.5,"type":"quantitative","scale":{"domain":[-36.2,37.229],"nice":false,"zero":false},"axis":null},"y":{"field":"r","type":"quantitative","scale":{"domain":[-3.9,17.129],"nice":false,"zero":false,"reverse":true},"axis":null},"text":{"field":"sample"}}}
]
}
]
}
